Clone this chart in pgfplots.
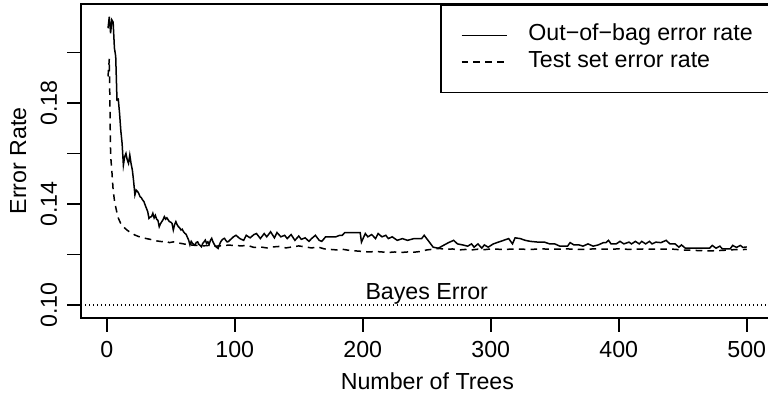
\documentclass[border=0pt]{standalone}
\usepackage{fontspec}
\setmainfont{Liberation Sans}
\usepackage{pgfplots}
\pgfplotsset{compat=1.18}
\newcommand\rf{\fontsize{11.6bp}{13.5bp}\selectfont}

\begin{document}
\rf
\begin{tikzpicture}
\begin{axis}[
  at={(0,0)}, anchor=south west,
  scale only axis, width=351.97bp, height=156.85bp,
  xmin=-19.96, xmax=530, ymin=0.09497, ymax=0.2192,
  axis line style={line width=0.8bp},
  tick style={line width=0.8bp, black},
  tick align=outside, tick pos=left,
  major tick length=7bp,
  xtick={0,100,200,300,400,500},
  xticklabels={0,100,200,300,400,500},
  ytick={0.1,0.12,0.14,0.16,0.18,0.2},
  yticklabels={0.10,{},0.14,{},0.18,{}},
  x tick label style={font=\rf, inner sep=0pt, anchor=north},
  y tick label style={font=\rf, inner sep=0pt, rotate=90, anchor=south},
  xticklabel shift=4.65bp, yticklabel shift=4.8bp,
  xlabel={Number of Trees}, ylabel={Error Rate},
  xlabel style={font=\rf, at={(axis cs:250.5,0.09497)}, anchor=base, yshift=-35.65bp, inner sep=0pt},
  ylabel style={font=\rf, at={(rel axis cs:-0.0784,0.5)}, anchor=base, inner sep=0pt},
  legend style={at={(axis cs:520.96,0.2192)}, anchor=north east, draw=black,
    line width=0.8bp, font=\rf, inner xsep=10bp, inner ysep=8.55bp,
    row sep=0pt, column sep=10.5bp,
    nodes={inner sep=0pt, text height=9.4bp, text depth=3.95bp}},
  legend cell align=left,
  legend image code/.code={\draw[#1] (0bp,0bp) -- (22.5bp,0bp);},
]
% out-of-bag error
\addplot[black, line width=0.75bp] coordinates {
(1,0.2096) (2,0.2142) (3,0.2076) (4,0.2129) (5,0.2120) (6,0.2017) (7,0.1985)
(8,0.1812) (9,0.1815) (10,0.1760) (11,0.1690) (12,0.1640) (13,0.1554) (14,0.1587)
(15,0.1600) (16,0.1575) (17,0.1561) (18,0.1594) (19,0.1560) (20,0.1535) (21,0.1490)
(22,0.1436) (23,0.1455) (24,0.1450) (25,0.1442) (26,0.1429) (27,0.1425) (28,0.1416)
(29,0.1410) (30,0.1396) (31,0.1383) (32,0.1370) (33,0.1343) (34,0.1348) (35,0.1350)
(36,0.1363) (37,0.1345) (38,0.1355) (39,0.1340) (40,0.1335) (41,0.1310) (42,0.1322)
(43,0.1330) (44,0.1338) (45,0.1350) (46,0.1340) (47,0.1345) (48,0.1337) (49,0.1330)
(50,0.1328) (51,0.1323) (52,0.1297) (53,0.1318) (54,0.1330) (55,0.1318) (56,0.1310)
(57,0.1305) (58,0.1297) (59,0.1300) (60,0.1290) (61,0.1284) (62,0.1280) (63,0.1268)
(64,0.1257) (65,0.1238) (66,0.1252) (67,0.1244) (68,0.1240) (69,0.1238) (70,0.1248)
(71,0.1250) (72,0.1240) (73,0.1236) (74,0.1231) (75,0.1244) (76,0.1250) (77,0.1257)
(78,0.1244) (79,0.1250) (80,0.1240) (81,0.1256) (82,0.1264) (83,0.1250) (84,0.1240)
(85,0.1232) (86,0.1228) (87,0.1224) (88,0.1238) (89,0.1250) (90,0.1257) (91,0.1262)
(92,0.1264) (93,0.1256) (94,0.1250) (95,0.1251) (96,0.1256) (99,0.1270) (101,0.1276)
(104,0.1263) (107,0.1256) (109,0.1276) (112,0.1266) (115,0.1279) (117,0.1283)
(120,0.1263) (123,0.1283) (125,0.1270) (128,0.1290) (131,0.1266) (133,0.1287)
(136,0.1270) (139,0.1276) (141,0.1263) (144,0.1279) (147,0.1256) (150,0.1273)
(152,0.1260) (155,0.1266) (158,0.1252) (160,0.1263) (163,0.1276) (166,0.1256)
(168,0.1252) (171,0.1270) (176,0.1270) (179,0.1270) (182,0.1276) (184,0.1276)
(186,0.1287) (198,0.1287) (199,0.1249) (202,0.1283) (204,0.1270) (207,0.1279)
(210,0.1263) (212,0.1283) (215,0.1270) (218,0.1276) (220,0.1263) (223,0.1270)
(227,0.1256) (231,0.1263) (235,0.1256) (240,0.1263) (246,0.1263) (248,0.1276)
(251,0.1256) (255,0.1229) (259,0.1225) (263,0.1236) (267,0.1247) (271,0.1256)
(274,0.1242) (278,0.1238) (282,0.1233) (285,0.1242) (287,0.1229) (290,0.1242)
(293,0.1225) (295,0.1238) (298,0.1229) (302,0.1242) (306,0.1249) (310,0.1256)
(314,0.1263) (317,0.1242) (319,0.1266) (323,0.1263) (327,0.1256) (331,0.1252)
(337,0.1249) (342,0.1249) (346,0.1242) (350,0.1242) (354,0.1233) (360,0.1233)
(362,0.1247) (365,0.1238) (369,0.1238) (372,0.1233) (376,0.1242) (380,0.1233)
(384,0.1238) (388,0.1247) (390,0.1247) (392,0.1256) (394,0.1242) (398,0.1242)
(401,0.1252) (404,0.1242) (408,0.1249) (410,0.1242) (413,0.1252) (416,0.1242)
(418,0.1252) (421,0.1242) (424,0.1252) (426,0.1242) (429,0.1249) (433,0.1247)
(437,0.1256) (440,0.1242) (444,0.1242) (447,0.1229) (449,0.1238) (452,0.1225)
(471,0.1225) (473,0.1236) (476,0.1225) (479,0.1233) (481,0.1222) (487,0.1222)
(489,0.1236) (492,0.1228) (495,0.1236) (497,0.1228) (500,0.1230)
};
\addlegendentry{Out−of−bag error rate}
% test set error
\addplot[black, line width=0.75bp, dash pattern=on 3.3bp off 2.6bp] coordinates {
(1,0.1905) (2,0.1975) (3,0.1594) (4,0.1530) (5,0.1455) (6,0.1415) (7,0.1388)
(8,0.1365) (9,0.1345) (10,0.1333) (11,0.1322) (12,0.1315) (14,0.1305) (16,0.1296)
(18,0.1289) (20,0.1283) (22,0.1277) (25,0.1271) (28,0.1267) (31,0.1263) (34,0.1260)
(37,0.1256) (40,0.1253) (43,0.1251) (46,0.1253) (49,0.1247) (52,0.1250) (55,0.1246)
(58,0.1244) (61,0.1241) (64,0.1239) (67,0.1237) (70,0.1236) (75,0.1234) (80,0.1236)
(85,0.1233) (90,0.1235) (95,0.1237) (100,0.1236) (105,0.1234) (110,0.1236)
(115,0.1228) (120,0.1230) (125,0.1226) (130,0.1230) (135,0.1232) (140,0.1226)
(145,0.1230) (150,0.1234) (155,0.1230) (160,0.1226) (165,0.1230) (170,0.1222)
(175,0.1220) (180,0.1218) (185,0.1220) (190,0.1216) (195,0.1214) (200,0.1212)
(205,0.1210) (210,0.1212) (215,0.1210) (220,0.1208) (225,0.1210) (230,0.1208)
(235,0.1210) (240,0.1209) (245,0.1212) (250,0.1218) (255,0.1221) (260,0.1224)
(265,0.1220) (270,0.1222) (275,0.1218) (280,0.1220) (285,0.1218) (290,0.1221)
(295,0.1219) (300,0.1222) (310,0.1220) (320,0.1222) (330,0.1220) (340,0.1222)
(350,0.1221) (360,0.1222) (370,0.1220) (380,0.1222) (390,0.1221) (400,0.1222)
(410,0.1220) (420,0.1222) (430,0.1221) (440,0.1222) (450,0.1218) (460,0.1216)
(470,0.1214) (480,0.1216) (490,0.1219) (500,0.1220)
};
\addlegendentry{Test set error rate}
% Bayes error
\addplot[black, line width=0.75bp, dash pattern=on 0.6bp off 1.4bp, forget plot]
  coordinates {(-19.96,0.1) (530,0.1)};
\node[font=\rf, inner sep=0pt, anchor=base] at (axis cs:250,0.1) [yshift=3bp] {Bayes Error};
\end{axis}
\pgfresetboundingbox
\path (-40.6bp,-38.65bp) rectangle (343.4bp,158.85bp);
\end{tikzpicture}
\end{document}
